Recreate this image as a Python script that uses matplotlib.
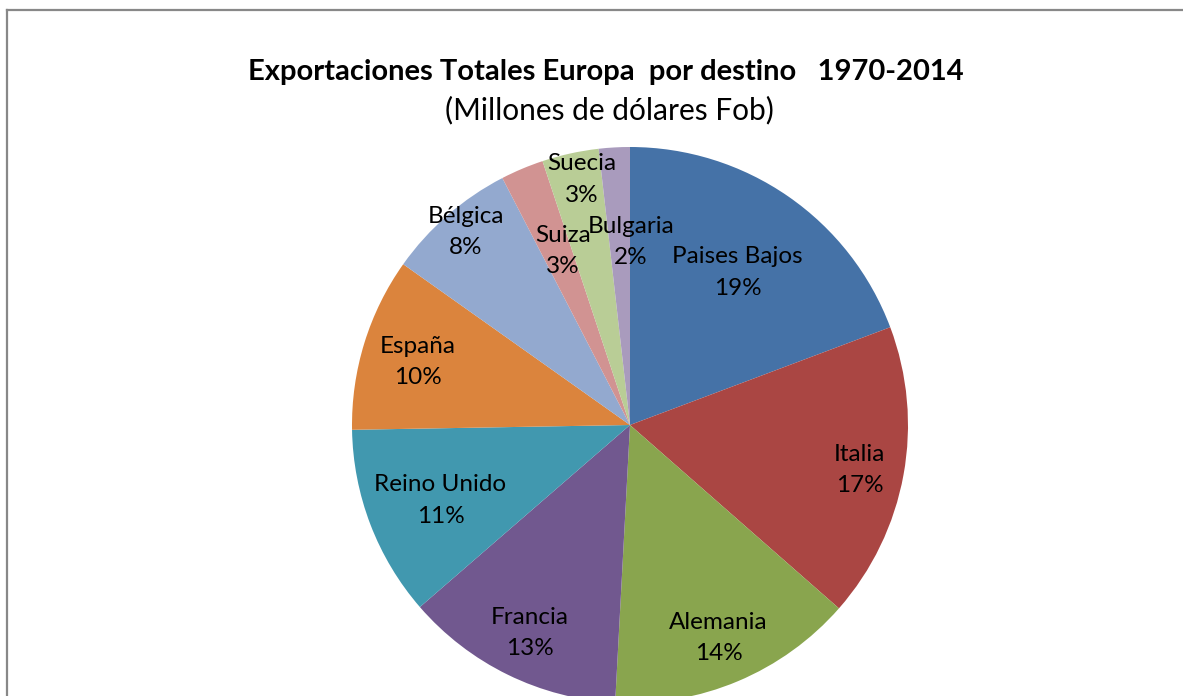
import numpy as np
import matplotlib
matplotlib.use('Agg')
import matplotlib.pyplot as plt
from matplotlib.lines import Line2D

plt.rcParams['font.family'] = ['Lato', 'DejaVu Sans']

paises = ['Paises Bajos', 'Italia', 'Alemania', 'Francia', 'Reino Unido',
          'España', 'Bélgica', 'Suiza', 'Suecia', 'Bulgaria']
shares = [19.3, 17.2, 14.4, 12.8, 11.1, 10.1, 7.6, 2.5, 3.3, 1.8]
pct_labels = ['19%', '17%', '14%', '13%', '11%', '10%', '8%', '3%', '3%', '2%']
colores = ['#4572A7', '#AA4643', '#89A54E', '#71588F', '#4198AF',
           '#DB843D', '#93A9CF', '#D19392', '#B9CD96', '#A99BBD']
# label placement: fraction of radius, clockwise angle shift (deg)
label_r = [0.68, 0.84, 0.82, 0.82, 0.73, 0.80, 0.92, 0.68, 0.91, 0.67]
label_shift = [0, 0, 0, 0, 0, 0, 1, 2, 1.5, 3.5]

W, H = 1183, 696
fig = plt.figure(figsize=(W / 100, H / 100), dpi=100)
ax = fig.add_axes([0, 0, 1, 1])

cx, cy, R = 630, H - 425, 278
wedges, _ = ax.pie(shares, colors=colores, startangle=90, counterclock=False,
                   center=(cx, cy), radius=R, frame=True,
                   wedgeprops=dict(linewidth=0))
ax.set_xlim(0, W)
ax.set_ylim(0, H)
ax.set_aspect('equal')
ax.axis('off')

for w, name, pct, f, s in zip(wedges, paises, pct_labels, label_r, label_shift):
    ang = np.deg2rad((w.theta1 + w.theta2) / 2 - s)
    x = cx + f * R * np.cos(ang)
    y = cy + f * R * np.sin(ang) - 3
    ax.text(x, y, f'{name}\n{pct}', ha='center', va='center', fontsize=17.5,
            linespacing=1.6, color='black')

fig.text(606 / W, 1 - 72 / H, 'Exportaciones Totales Europa  por destino   1970-2014',
         ha='center', va='center', fontsize=21, fontweight='bold')
fig.text(609 / W, 1 - 110 / H, '(Millones de dólares Fob)',
         ha='center', va='center', fontsize=21.5)

# chart border (left and top only visible)
fig.add_artist(Line2D([7 / W, 7 / W], [0, 1 - 9.5 / H], transform=fig.transFigure,
                      color='#888888', linewidth=1.6))
fig.add_artist(Line2D([7 / W, 1], [1 - 9.5 / H, 1 - 9.5 / H], transform=fig.transFigure,
                      color='#888888', linewidth=1.6))

fig.savefig('out.png', dpi=100)
